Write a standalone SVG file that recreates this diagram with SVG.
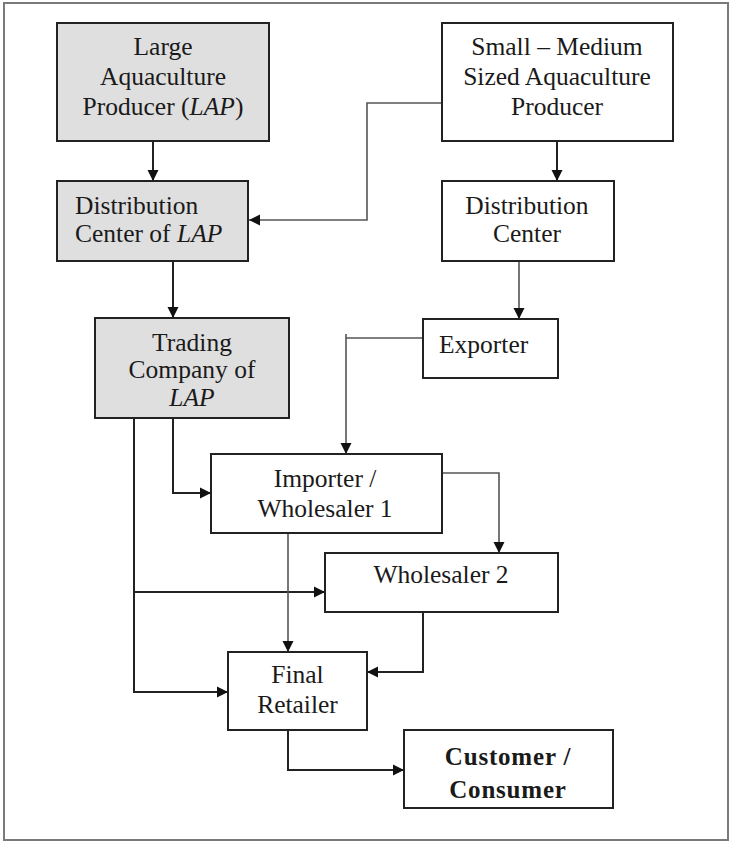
<svg xmlns="http://www.w3.org/2000/svg" width="730" height="842" viewBox="0 0 730 842">
<style>
  .box { fill: #ffffff; stroke: #222222; stroke-width: 2; }
  .gray { fill: #dfdfdf; }
  .t { font-family: "Liberation Serif", "Times New Roman", serif; font-size: 25.5px; fill: #1a1a1a; text-anchor: middle; }
  .l { text-anchor: start; }
  .b { font-weight: bold; letter-spacing: 0.8px; font-size: 25px; }
  .c { fill: none; stroke: #222222; stroke-width: 2; marker-end: url(#arr); }
  .g { stroke: #555555; stroke-width: 1.6; }
</style>
<defs>
  <marker id="arr" markerUnits="userSpaceOnUse" markerWidth="12" markerHeight="12" refX="11" refY="6" orient="auto">
    <path d="M0,0.5 L11,6 L0,11.5 z" fill="#111111"/>
  </marker>
</defs>
<rect x="0" y="0" width="730" height="842" fill="#ffffff"/>
<rect x="4" y="3" width="724" height="837" fill="none" stroke="#7a7a7a" stroke-width="2"/>

<g id="connectors">
  <path class="c" d="M153,141 V181"/>
  <path class="c g" d="M442,103 H367 V220 H249"/>
  <path class="c" d="M557,141 V181"/>
  <path class="c" d="M173,261 V318"/>
  <path class="c g" d="M519,261 V319"/>
  <path class="c g" d="M423,338 H346 M346,334 V454"/>
  <path class="c" d="M173,418 V493 H211"/>
  <path class="c" d="M134,418 V692 H228"/>
  <path class="c" d="M134,592 H325"/>
  <path class="c g" d="M442,473 H499 V553"/>
  <path class="c g" d="M288,533 V652"/>
  <path class="c" d="M423,612 V672 H367"/>
  <path class="c" d="M288,730 V770 H404"/>
</g>

<g id="lap">
  <rect class="box gray" x="57" y="23" width="212" height="118"/>
  <text class="t" x="163" y="55">Large</text>
  <text class="t" x="163" y="85">Aquaculture</text>
  <text class="t" x="163" y="115">Producer (<tspan font-style="italic">LAP</tspan>)</text>
</g>

<g id="dc-lap">
  <rect class="box gray" x="57" y="181" width="191" height="80"/>
  <text class="t l" x="75" y="214">Distribution</text>
  <text class="t l" x="75" y="242">Center of <tspan font-style="italic">LAP</tspan></text>
</g>

<g id="smap">
  <rect class="box" x="442" y="23" width="231" height="118"/>
  <text class="t" x="557" y="55">Small – Medium</text>
  <text class="t" x="557" y="85">Sized Aquaculture</text>
  <text class="t" x="557" y="115">Producer</text>
</g>

<g id="dc">
  <rect class="box" x="442" y="181" width="172" height="80"/>
  <text class="t" x="527" y="214">Distribution</text>
  <text class="t" x="527" y="242">Center</text>
</g>

<g id="trading">
  <rect class="box gray" x="95" y="318" width="194" height="100"/>
  <text class="t" x="192" y="351">Trading</text>
  <text class="t" x="192" y="378">Company of</text>
  <text class="t" x="192" y="406" font-style="italic">LAP</text>
</g>

<g id="exporter">
  <rect class="box" x="423" y="319" width="135" height="59"/>
  <text class="t l" x="439" y="353">Exporter</text>
</g>

<g id="importer">
  <rect class="box" x="211" y="454" width="231" height="79"/>
  <text class="t" x="325" y="487">Importer /</text>
  <text class="t" x="325" y="517">Wholesaler 1</text>
</g>

<g id="wholesaler2">
  <rect class="box" x="325" y="553" width="233" height="59"/>
  <text class="t" x="441" y="583">Wholesaler 2</text>
</g>

<g id="retailer">
  <rect class="box" x="228" y="652" width="139" height="78"/>
  <text class="t" x="297.5" y="683">Final</text>
  <text class="t" x="297.5" y="713">Retailer</text>
</g>

<g id="customer">
  <rect class="box" x="404" y="730" width="209" height="78"/>
  <text class="t b" x="508" y="765">Customer /</text>
  <text class="t b" x="508" y="798">Consumer</text>
</g>
</svg>
